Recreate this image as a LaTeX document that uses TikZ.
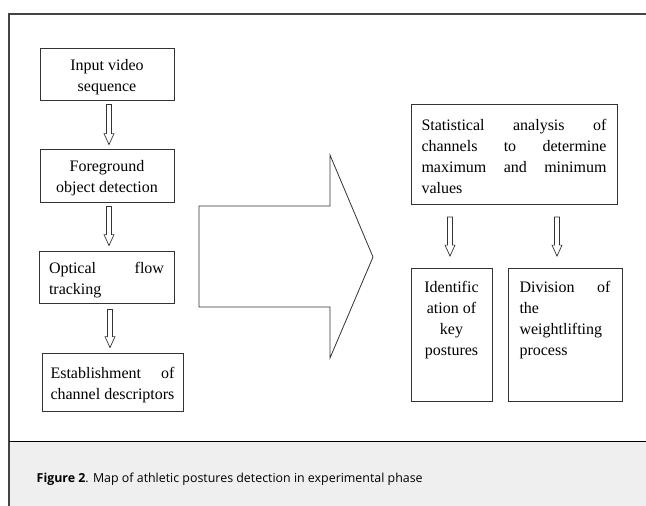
\documentclass[tikz,border=0pt]{standalone}
\usepackage{fontspec}
\setmainfont{Liberation Serif}
\newfontfamily\capfont{Open Sans}
\usetikzlibrary{calc}
\definecolor{capgrey}{HTML}{EFEFEF}
\definecolor{framegrey}{HTML}{444444}
\definecolor{boxline}{HTML}{333333}
% text block inside a box: #1 width, #2 height, #3 inner pos, #4 top space, #5 content
\newcommand{\btxt}[5]{\parbox[c][#2][#3]{#1}{\hyphenpenalty=10000\vspace*{#4}#5}}
% hollow down arrow between two nodes: #1 upper, #2 lower, #3 x offset, #4 top gap, #5 bottom gap
\newcommand{\hdown}[5]{%
  \draw[harrow] let \p1=($(#1.south)+(#3,0)$), \p2=(#1.south), \p3=(#2.north) in
    (\x1-2.5pt,\y2-#4pt) -- (\x1-2.5pt,\y3+#5pt+11pt) -- (\x1-5pt,\y3+#5pt+11pt)
    -- (\x1,\y3+#5pt) -- (\x1+5pt,\y3+#5pt+11pt) -- (\x1+2.5pt,\y3+#5pt+11pt)
    -- (\x1+2.5pt,\y2-#4pt) -- cycle;}
\begin{document}
\begin{tikzpicture}[x=1pt,y=-1pt,
  stepbox/.style={draw=boxline, line width=0.8pt, inner sep=0pt,
    font=\fontsize{16}{21}\selectfont},
  harrow/.style={draw=boxline, line width=0.7pt, fill=white},
  bigarrow/.style={draw=boxline, line width=0.8pt, fill=white, line join=miter},
  frameline/.style={draw=framegrey, line width=1.6pt}]
\useasboundingbox (0,0) rectangle (646,506);
\fill[capgrey] (9,441) rectangle (646,506);
\draw[frameline] (9,506) -- (9,14) -- (646,14);
\draw[black, line width=1.2pt] (9,441.5) -- (646,441.5);

% left column
\node[stepbox, minimum width=134, minimum height=52] (in) at (107,74)
  {\btxt{120pt}{52pt}{c}{6pt}{\centering Input video\\sequence}};
\node[stepbox, minimum width=134, minimum height=53] (fg) at (107,175.5)
  {\btxt{120pt}{53pt}{c}{6pt}{\centering Foreground\\object detection}};
\node[stepbox, minimum width=135, minimum height=52] (op) at (106.5,277)
  {\btxt{115pt}{52pt}{c}{6pt}{Optical\hfill flow\\tracking}};
\node[stepbox, minimum width=141, minimum height=58] (es) at (112.5,382)
  {\btxt{124pt}{58pt}{c}{6pt}{Establishment\hfill of\\\mbox{channel descriptors}}};

% right column
\node[stepbox, minimum width=206, minimum height=100] (st) at (514,154)
  {\btxt{185pt}{100pt}{c}{4pt}{Statistical\hfill analysis\hfill of\\channels\hfill to\hfill determine\\maximum\hfill and\hfill minimum\\values}};
\node[stepbox, minimum width=81, minimum height=133] (id) at (451.5,334.5)
  {\btxt{76pt}{133pt}{t}{13pt}{\centering Identific\\ation of\\key\\postures}};
\node[stepbox, minimum width=114, minimum height=133] (dv) at (565,334.5)
  {\btxt{91pt}{133pt}{t}{13pt}{Division\hfill of\\the\\weightlifting\\process}};

% arrows
\hdown{in}{fg}{2}{4}{4}
\hdown{fg}{op}{2}{4}{5}
\hdown{op}{es}{3.5}{6}{5}
\hdown{st}{id}{-64}{12.5}{11.5}
\hdown{st}{dv}{43}{12.5}{11.5}

\draw[bigarrow] (199,206) -- (330,206) -- (330,155) -- (373,257) -- (330,358)
  -- (330,307) -- (199,307) -- cycle;

% caption
\node[anchor=base west, inner sep=0pt, font=\capfont\fontsize{12.4}{15}\selectfont] (cap)
  at (36.5,482.7) {\textbf{Figure 2}. Map of athletic postures detection in experimental phase};
\end{tikzpicture}
\end{document}
